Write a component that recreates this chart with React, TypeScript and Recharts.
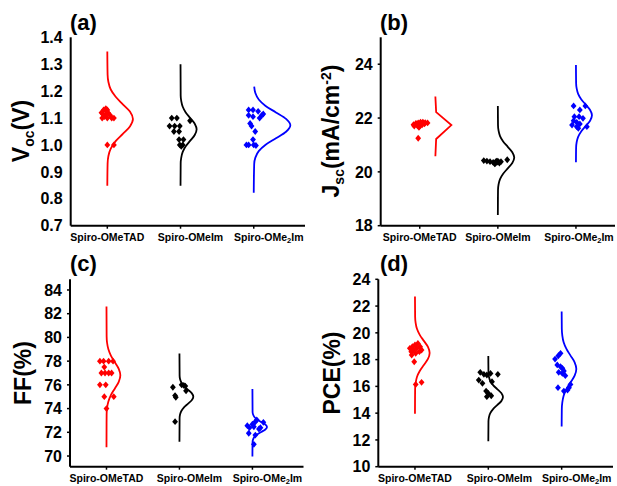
import React from "react";
import { ComposedChart, Scatter, Line, XAxis, YAxis } from "recharts";

type Pt = [number, number];

const groupNames = ["Spiro-OMeTAD", "Spiro-OMeIm", "Spiro-OMe2Im"];
const groupColors = ["#ff0000", "#000000", "#0000ff"];
const categoryX = [1, 2, 3];

// (a) Voc, points are [x jitter, value]
const vocTad: Pt[] = [[0.92, 1.12], [0.95, 1.13], [0.98, 1.135], [1.0, 1.13], [0.94, 1.115], [0.97, 1.11], [1.01, 1.12], [1.04, 1.11], [0.93, 1.1], [0.96, 1.105], [1.0, 1.1], [1.06, 1.1], [1.09, 1.1], [0.99, 1.125], [1.0, 1.0], [1.09, 1.0]];
const vocIm: Pt[] = [[1.88, 1.1], [1.95, 1.1], [2.13, 1.09], [1.85, 1.07], [1.92, 1.07], [1.99, 1.07], [1.91, 1.05], [1.98, 1.05], [1.98, 1.02], [2.04, 1.02], [1.99, 1.0], [2.03, 1.0], [2.01, 0.995]];
const vocMe2: Pt[] = [[2.93, 1.13], [2.99, 1.13], [3.06, 1.125], [3.13, 1.115], [2.93, 1.11], [2.99, 1.105], [3.08, 1.1], [3.11, 1.11], [2.95, 1.08], [2.97, 1.07], [3.02, 1.05], [2.99, 1.02], [2.9, 1.0], [2.93, 1.0], [3.0, 1.0], [3.03, 0.998]];
// normal curves, [value, horizontal bulge]
const vocTadCurve: Pt[] = [[0.848, 0], [0.931, 0.004], [0.959, 0.015], [0.986, 0.047], [1.014, 0.114], [1.041, 0.212], [1.069, 0.309], [1.096, 0.35], [1.124, 0.309], [1.151, 0.212], [1.179, 0.114], [1.206, 0.047], [1.234, 0.015], [1.261, 0.004], [1.347, 0]];
const vocImCurve: Pt[] = [[0.848, 0], [0.932, 0.002], [0.953, 0.01], [0.974, 0.03], [0.995, 0.071], [1.016, 0.133], [1.037, 0.194], [1.058, 0.22], [1.079, 0.194], [1.1, 0.133], [1.121, 0.071], [1.142, 0.03], [1.163, 0.01], [1.184, 0.002], [1.3, 0]];
const vocMe2Curve: Pt[] = [[0.822, 0], [0.929, 0.006], [0.953, 0.022], [0.977, 0.068], [1.001, 0.162], [1.025, 0.303], [1.049, 0.441], [1.073, 0.5], [1.097, 0.441], [1.121, 0.303], [1.145, 0.162], [1.169, 0.068], [1.193, 0.022], [1.217, 0.006]];
const vocTicks = [0.7, 0.8, 0.9, 1.0, 1.1, 1.2, 1.3, 1.4];

// (b) Jsc
const jscTad: Pt[] = [[0.92, 21.75], [0.95, 21.8], [0.98, 21.82], [1.01, 21.85], [1.04, 21.85], [1.07, 21.83], [1.1, 21.82], [0.93, 21.7], [0.97, 21.72], [1.0, 21.7], [1.03, 21.75], [0.99, 21.65], [1.06, 21.78], [0.96, 21.78], [1.02, 21.8], [0.98, 21.25]];
const jscIm: Pt[] = [[1.82, 20.42], [1.86, 20.4], [1.9, 20.38], [1.94, 20.35], [1.97, 20.32], [2.0, 20.36], [2.02, 20.33], [2.04, 20.38], [1.98, 20.4], [2.12, 20.45], [1.96, 20.3], [2.0, 20.4]];
const jscMe2: Pt[] = [[2.97, 22.45], [3.12, 22.45], [3.05, 22.3], [2.98, 22.05], [3.04, 22.05], [3.09, 21.99], [2.97, 21.9], [3.01, 21.84], [2.95, 21.74], [3.05, 21.78], [3.14, 21.68], [3.01, 21.68], [3.03, 21.62]];
const jscTadCurve: Pt[] = [[20.58, 0], [21.22, 0.01], [21.74, 0.205], [22.22, 0.01], [22.8, 0]];
const jscImCurve: Pt[] = [[18.4, 0], [19.33, 0.002], [19.53, 0.009], [19.73, 0.028], [19.93, 0.068], [20.13, 0.127], [20.33, 0.185], [20.53, 0.21], [20.73, 0.185], [20.93, 0.127], [21.13, 0.068], [21.33, 0.028], [21.53, 0.009], [21.73, 0.002], [22.45, 0]];
const jscMe2Curve: Pt[] = [[20.36, 0], [20.9, 0.002], [21.1, 0.009], [21.3, 0.028], [21.5, 0.067], [21.7, 0.124], [21.9, 0.181], [22.1, 0.205], [22.3, 0.181], [22.5, 0.124], [22.7, 0.067], [22.9, 0.028], [23.1, 0.009], [23.3, 0.002], [23.97, 0]];
const jscCurveX = [1.2, 2.0, 3.0];
const jscTicks = [18, 20, 22, 24];

// (c) FF
const ffTad: Pt[] = [[0.91, 78], [0.96, 78], [1.03, 78], [1.09, 78], [0.97, 77.5], [0.93, 77], [0.98, 77], [1.03, 77], [1.07, 77], [0.91, 76], [0.99, 76], [0.97, 75], [1.1, 75], [1.0, 74]];
const ffIm: Pt[] = [[1.91, 75.8], [2.03, 76.0], [2.06, 75.95], [2.08, 75.9], [2.09, 75.5], [1.94, 75.1], [1.95, 74.95], [1.94, 72.9]];
const ffMe2: Pt[] = [[2.93, 72.56], [2.96, 72.39], [3.0, 72.68], [3.02, 72.47], [3.04, 72.89], [3.06, 73.04], [3.09, 72.28], [3.11, 72.39], [3.15, 72.84], [2.95, 71.92], [3.04, 71.77], [3.02, 70.99]];
const ffTadCurve: Pt[] = [[70.75, 0], [73.5, 0.002], [74.05, 0.008], [74.6, 0.026], [75.15, 0.062], [75.7, 0.115], [76.25, 0.168], [76.8, 0.19], [77.35, 0.168], [77.9, 0.115], [78.45, 0.062], [79.0, 0.026], [79.55, 0.008], [80.1, 0.002], [82.6, 0]];
const ffImCurve: Pt[] = [[71.2, 0], [73.2, 0.002], [73.5, 0.008], [73.8, 0.026], [74.1, 0.062], [74.4, 0.115], [74.7, 0.168], [75.0, 0.19], [75.3, 0.168], [75.6, 0.115], [75.9, 0.062], [76.2, 0.026], [76.5, 0.008], [76.8, 0.002], [78.65, 0]];
const ffMe2Curve: Pt[] = [[69.95, 0], [71.19, 0.002], [71.4, 0.009], [71.61, 0.027], [71.82, 0.065], [72.03, 0.121], [72.24, 0.177], [72.45, 0.2], [72.66, 0.177], [72.87, 0.121], [73.08, 0.065], [73.29, 0.027], [73.5, 0.009], [73.71, 0.002], [75.65, 0]];
const ffTicks = [70, 72, 74, 76, 78, 80, 82, 84];

// (d) PCE
const pceTad: Pt[] = [[0.93, 18.84], [0.965, 18.96], [1.0, 19.09], [1.04, 19.21], [1.07, 18.96], [1.09, 18.72], [0.95, 18.59], [0.98, 18.72], [1.025, 18.84], [1.06, 18.59], [0.955, 18.34], [1.01, 18.47], [0.99, 17.84], [1.01, 16.15], [1.09, 16.3]];
const pceIm: Pt[] = [[1.89, 17.05], [1.94, 16.9], [1.87, 16.47], [1.92, 16.23], [1.98, 16.85], [2.03, 16.97], [2.05, 16.35], [2.13, 16.9], [1.97, 15.65], [2.0, 15.48], [1.98, 15.23], [2.04, 15.3]];
const pceMe2: Pt[] = [[2.91, 18.04], [2.955, 18.29], [2.985, 18.47], [2.94, 17.6], [2.985, 17.47], [3.01, 17.35], [3.03, 17.15], [3.05, 16.8], [2.96, 17.05], [3.01, 16.97], [2.95, 15.9], [3.03, 15.65], [3.08, 15.73], [3.12, 16.15], [3.1, 15.9]];
const pceTadCurve: Pt[] = [[13.95, 0], [15.8, 0.002], [16.25, 0.009], [16.7, 0.027], [17.15, 0.065], [17.6, 0.121], [18.05, 0.177], [18.5, 0.2], [18.95, 0.177], [19.4, 0.121], [19.85, 0.065], [20.3, 0.027], [20.75, 0.009], [21.2, 0.002], [22.72, 0]];
const pceImCurve: Pt[] = [[11.9, 0], [13.4, 0.002], [13.7, 0.009], [14.0, 0.027], [14.3, 0.065], [14.6, 0.121], [14.9, 0.177], [15.2, 0.2], [15.5, 0.177], [15.8, 0.121], [16.1, 0.065], [16.4, 0.027], [16.7, 0.009], [17.0, 0.002], [18.27, 0]];
const pceMe2Curve: Pt[] = [[13.0, 0], [14.3, 0.002], [14.8, 0.009], [15.3, 0.027], [15.8, 0.065], [16.3, 0.121], [16.8, 0.177], [17.3, 0.2], [17.8, 0.177], [18.3, 0.121], [18.8, 0.065], [19.3, 0.027], [19.8, 0.009], [20.3, 0.002], [21.6, 0]];
const pceTicks = [10, 12, 14, 16, 18, 20, 22, 24];

const FONT = "'Liberation Sans', Arial, sans-serif";

const Diamond = (props: any) => {
  const { cx, cy, fill } = props;
  if (cx == null || cy == null) return null;
  return <path d={`M${cx},${cy - 3.4}L${cx + 2.9},${cy}L${cx},${cy + 3.4}L${cx - 2.9},${cy}Z`} fill={fill} />;
};

function GroupTick(props: any) {
  const { x, y, payload, shifts } = props;
  const i = Math.round(payload.value) - 1;
  const name = groupNames[i];
  const style = { fontFamily: FONT, fontWeight: 700, fontSize: 10.5 };
  if (name === "Spiro-OMe2Im") {
    return (
      <text x={x + shifts[i]} y={y + 10} textAnchor="middle" fill="#000" style={style}>
        Spiro-OMe<tspan dy={2} fontSize={7.5}>2</tspan><tspan dy={-2}>Im</tspan>
      </text>
    );
  }
  return (
    <text x={x + shifts[i]} y={y + 10} textAnchor="middle" fill="#000" style={style}>
      {name}
    </text>
  );
}

interface PanelCfg {
  left: number;
  top: number;
  width: number;
  height: number;
  margin: { top: number; right: number; bottom: number; left: number };
  yWidth: number;
  xHeight: number;
  xDomain: [number, number];
  yDomain: [number, number];
  yTicks: number[];
  fmt?: (v: number) => string;
  yTickLine: boolean;
  points: Pt[][];
  curves: Pt[][];
  curveX: number[];
  curveTypes: string[];
  labelShift: number[];
}

const smooth = ["monotoneY", "monotoneY", "monotoneY"];

const panels: PanelCfg[] = [
  {
    left: 0, top: 0, width: 310, height: 252,
    margin: { top: 37.3, right: 5, bottom: 0, left: 0 }, yWidth: 70.7, xHeight: 26.3,
    xDomain: [0.5, 3.7], yDomain: [0.7, 1.4], yTicks: vocTicks, fmt: (v) => v.toFixed(1), yTickLine: false,
    points: [vocTad, vocIm, vocMe2], curves: [vocTadCurve, vocImCurve, vocMe2Curve],
    curveX: categoryX, curveTypes: smooth, labelShift: [0, 10, 15],
  },
  {
    left: 310, top: 0, width: 307, height: 252,
    margin: { top: 37.3, right: 2, bottom: 0, left: 0 }, yWidth: 70.7, xHeight: 26.3,
    xDomain: [0.5, 3.5], yDomain: [18, 25], yTicks: jscTicks, yTickLine: true,
    points: [jscTad, jscIm, jscMe2], curves: [jscTadCurve, jscImCurve, jscMe2Curve],
    curveX: jscCurveX, curveTypes: ["linear", "monotoneY", "monotoneY"], labelShift: [0, 0, 3],
  },
  {
    left: 0, top: 243, width: 310, height: 243,
    margin: { top: 36.3, right: 6.5, bottom: 0, left: 0 }, yWidth: 70, xHeight: 19.3,
    xDomain: [0.5, 3.7], yDomain: [69.1, 84.9], yTicks: ffTicks, yTickLine: true,
    points: [ffTad, ffIm, ffMe2], curves: [ffTadCurve, ffImCurve, ffMe2Curve],
    curveX: categoryX, curveTypes: smooth, labelShift: [0, 10, 15],
  },
  {
    left: 310, top: 243, width: 307, height: 243,
    margin: { top: 36.3, right: 4, bottom: 0, left: 0 }, yWidth: 68.3, xHeight: 19.3,
    xDomain: [0.5, 3.7], yDomain: [10, 24], yTicks: pceTicks, yTickLine: true,
    points: [pceTad, pceIm, pceMe2], curves: [pceTadCurve, pceImCurve, pceMe2Curve],
    curveX: categoryX, curveTypes: smooth, labelShift: [0, 11, 15],
  },
];

const axisLine = { stroke: "#000", strokeWidth: 2 };
const tickLine = { stroke: "#000", strokeWidth: 1.5 };

function Panel({ cfg }: { cfg: PanelCfg }) {
  return (
    <div style={{ position: "absolute", left: cfg.left, top: cfg.top }}>
      <ComposedChart width={cfg.width} height={cfg.height} margin={cfg.margin}>
        <XAxis
          type="number" dataKey="x" domain={cfg.xDomain} ticks={categoryX} allowDataOverflow
          height={cfg.xHeight} tickSize={3} tickMargin={2} interval={0}
          axisLine={axisLine} tickLine={tickLine}
          tick={<GroupTick shifts={cfg.labelShift} />}
        />
        <XAxis
          xAxisId="top" orientation="top" type="number" dataKey="x" domain={cfg.xDomain} allowDataOverflow
          height={0} tick={false} tickLine={false} axisLine={axisLine}
        />
        <YAxis
          type="number" dataKey="y" domain={cfg.yDomain} ticks={cfg.yTicks} allowDataOverflow
          width={cfg.yWidth} tickSize={3} tickMargin={5} interval={0}
          axisLine={axisLine} tickLine={cfg.yTickLine ? tickLine : false}
          tickFormatter={cfg.fmt}
          tick={{ fill: "#000", fontSize: 16, fontWeight: 700, fontFamily: FONT }}
        />
        <YAxis
          yAxisId="right" orientation="right" type="number" dataKey="y" domain={cfg.yDomain} allowDataOverflow
          width={0} tick={false} tickLine={false} axisLine={axisLine}
        />
        {cfg.points.map((pts, i) => (
          <Scatter
            key={"s" + i}
            data={pts.map(([x, y]) => ({ x, y }))}
            fill={groupColors[i]}
            shape={<Diamond />}
            isAnimationActive={false}
          />
        ))}
        {cfg.curves.map((c, i) => (
          <Line
            key={"l" + i}
            data={c.map(([y, dx]) => ({ x: cfg.curveX[i] + dx, y }))}
            dataKey="y"
            type={cfg.curveTypes[i] as any}
            stroke={groupColors[i]}
            strokeWidth={1.8}
            dot={false}
            activeDot={false}
            isAnimationActive={false}
          />
        ))}
      </ComposedChart>
    </div>
  );
}

const titleStyle = { fontFamily: FONT, fontWeight: 700 };

export default function App() {
  return (
    <div style={{ position: "absolute", left: 0, top: 0, width: 617, height: 486, background: "#fff", overflow: "hidden" }}>
      {panels.map((p, i) => (
        <Panel key={i} cfg={p} />
      ))}
      <svg width={617} height={486} style={{ position: "absolute", left: 0, top: 0, pointerEvents: "none" }}>
        <g style={titleStyle} fill="#000" fontSize={22}>
          <text x={70} y={30}>(a)</text>
          <text x={380} y={30}>(b)</text>
          <text x={70} y={271}>(c)</text>
          <text x={380} y={271}>(d)</text>
        </g>
        <g style={titleStyle} fill="#000" fontSize={23}>
          <text x={29} y={131} textAnchor="middle" transform="rotate(-90 29 131)">
            V<tspan dy={5} fontSize={14}>oc</tspan><tspan dy={-5}>(V)</tspan>
          </text>
          <text x={339} y={131} textAnchor="middle" transform="rotate(-90 339 131)">
            J<tspan dy={5} fontSize={14}>sc</tspan><tspan dy={-5}>(mA/cm</tspan>
            <tspan dy={-8} fontSize={14}>-2</tspan><tspan dy={8}>)</tspan>
          </text>
          <text x={31} y={373} textAnchor="middle" transform="rotate(-90 31 373)">FF(%)</text>
          <text x={340} y={373} textAnchor="middle" transform="rotate(-90 340 373)">PCE(%)</text>
        </g>
      </svg>
    </div>
  );
}
